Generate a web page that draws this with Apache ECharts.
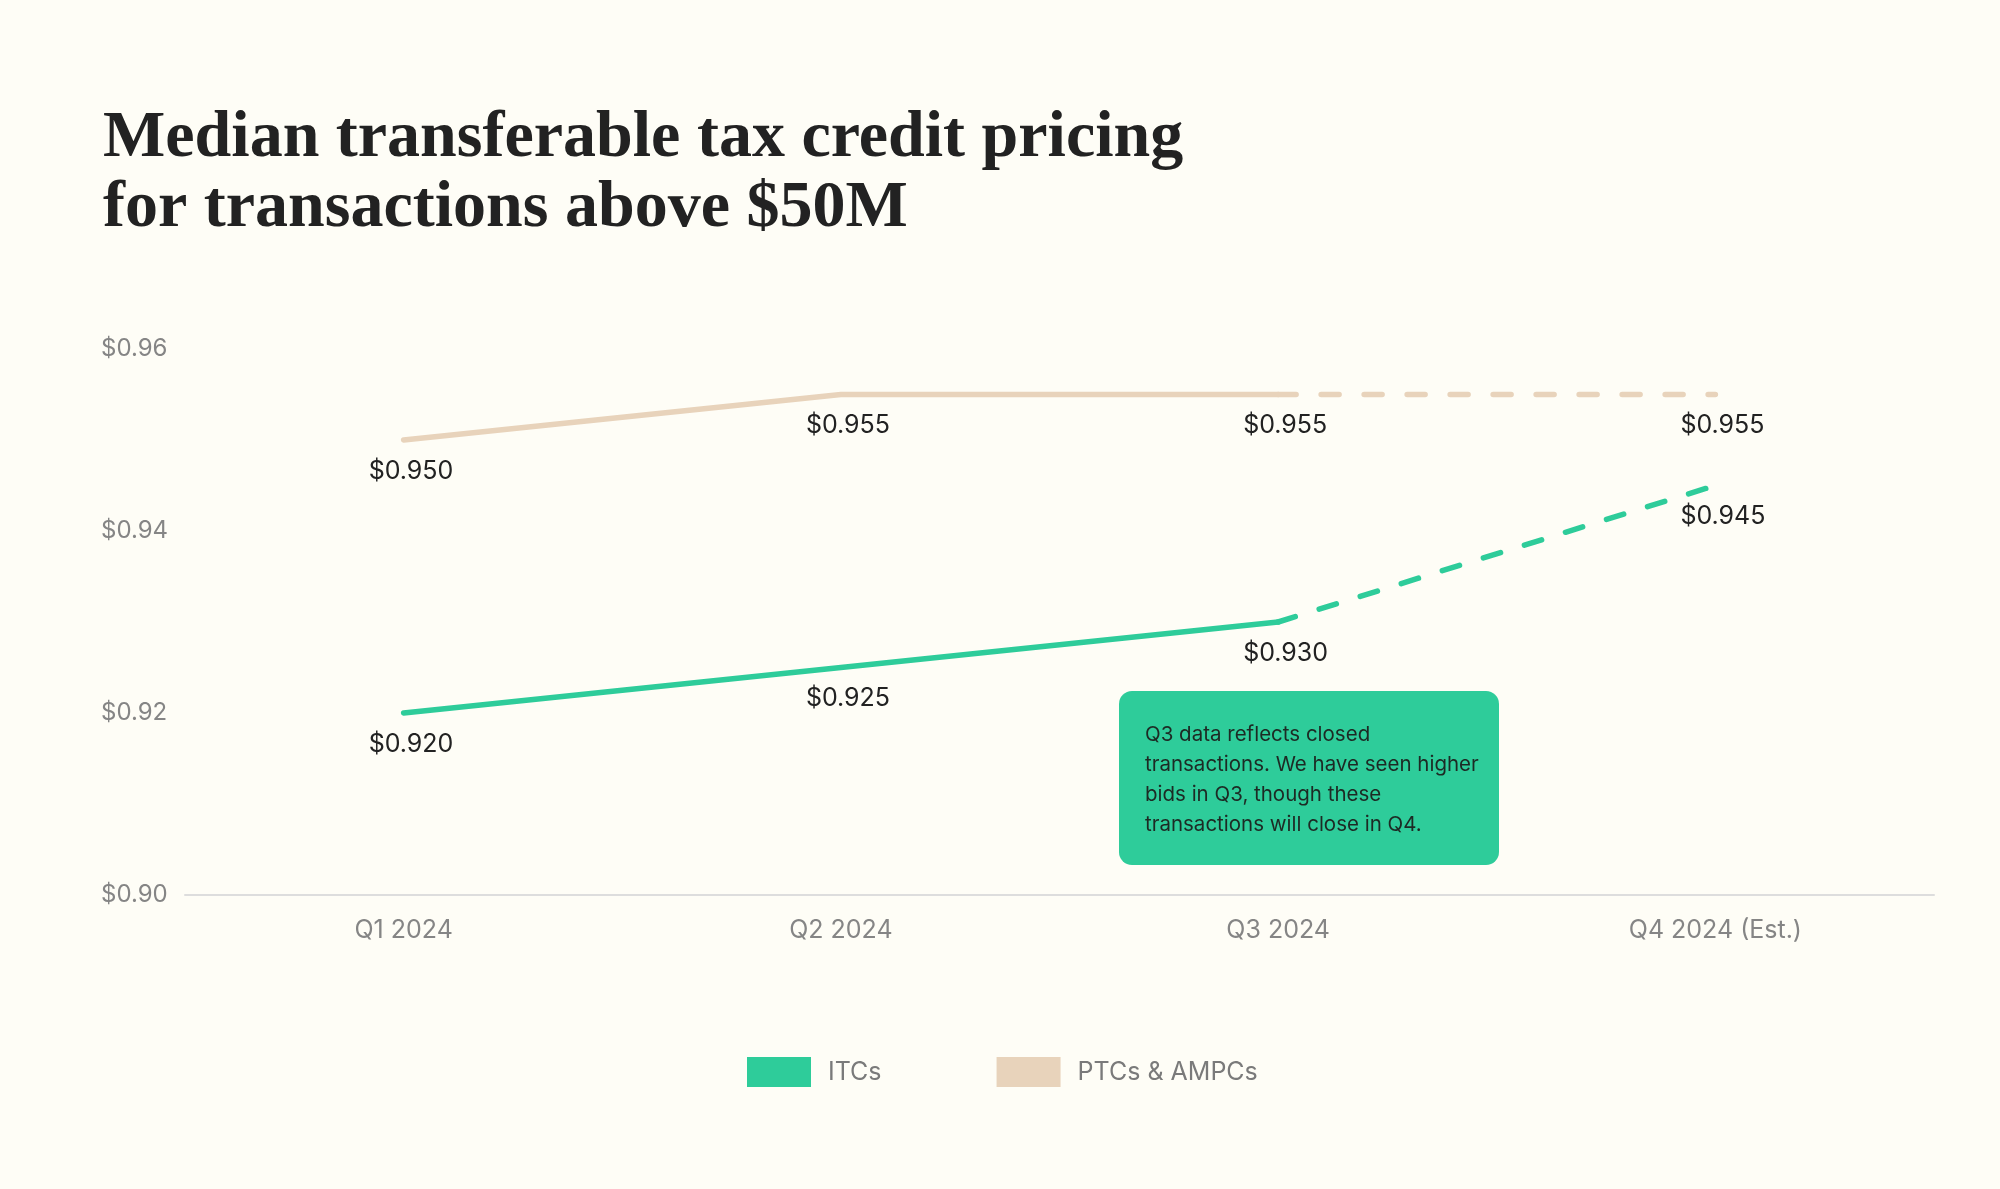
<!DOCTYPE html>
<html>
<head>
<meta charset="utf-8">
<title>Median transferable tax credit pricing</title>
<script src="https://cdn.jsdelivr.net/npm/echarts@6/dist/echarts.min.js"></script>
<style>
    html, body { margin: 0; padding: 0; background: #fefdf6; }
    #chart { width: 2000px; height: 1189px; }
</style>
</head>
<body>
<div id="chart"></div>
<script>
// quarters on the x axis
var quarters = ["Q1 2024", "Q2 2024", "Q3 2024", "Q4 2024 (Est.)"];
// closed transactions (solid) and the estimate (dashed)
var itcClosed = [0.920, 0.925, 0.930, null];
var itcEst = [null, null, 0.930, 0.945];
var ptcClosed = [0.950, 0.955, 0.955, null];
var ptcEst = [null, null, 0.955, 0.955];
// y axis ticks
var yMin = 0.90, yMax = 0.96, yStep = 0.02;

var green = "#2ecc9a";
var sand = "#e8d3bb";
var baseFont = "Inter";

var note = "Q3 data reflects closed\ntransactions. We have seen higher\nbids in Q3, though these\ntransactions will close in Q4.";

// 数据标签：点的下方，左对齐
function valueLabel(skipIndex) {
    return {
        show: true,
        position: "bottom",
        distance: 18,
        align: "left",
        offset: [-35, 0],
        color: "#222",
        fontFamily: baseFont,
        fontSize: 25,
        formatter: function (p) {
            if (skipIndex.indexOf(p.dataIndex) >= 0) return "";
            return "$" + p.value.toFixed(3);
        }
    };
}

function lineSeries(name, data, color, dashed, skip) {
    return {
        name: name,
        type: "line",
        data: data,
        symbol: "circle",
        symbolSize: 1,
        showSymbol: true,
        connectNulls: false,
        itemStyle: { color: "rgba(0,0,0,0)" },
        lineStyle: {
            color: color,
            width: 5.5,
            type: dashed ? [18, 25] : "solid",
            cap: "round",
            join: "round"
        },
        label: valueLabel(skip),
        emphasis: { disabled: true },
        silent: true,
        z: dashed ? 2 : 3
    };
}

var myChart = echarts.init(document.getElementById("chart"));
myChart.setOption({
    backgroundColor: "#fefdf6",
    animation: false,
    title: {
        text: "Median transferable tax credit pricing\nfor transactions above $50M",
        left: 98,
        top: 99,
        textStyle: {
            fontFamily: "Liberation Serif",
            fontWeight: "bold",
            fontSize: 66,
            lineHeight: 70,
            color: "#222"
        }
    },
    legend: {
        left: 742,
        top: 1052,
        itemWidth: 64,
        itemHeight: 30,
        itemGap: 115,
        icon: "rect",
        selectedMode: false,
        textStyle: { color: "#7a7a7a", fontFamily: baseFont, fontSize: 25, padding: [0, 0, 0, 12] },
        data: [
            { name: "ITCs", itemStyle: { color: green } },
            { name: "PTCs & AMPCs", itemStyle: { color: sand } }
        ]
    },
    grid: { left: 185, right: 66, top: 349, bottom: 1189 - 895 },
    xAxis: {
        type: "category",
        data: quarters,
        boundaryGap: true,
        axisLine: { show: true, lineStyle: { color: "#dddddd", width: 2 } },
        axisTick: { show: false },
        axisLabel: { color: "#858585", fontFamily: baseFont, fontSize: 25, margin: 23 }
    },
    yAxis: {
        type: "value",
        min: yMin,
        max: yMax,
        interval: yStep,
        axisLine: { show: false },
        axisTick: { show: false },
        splitLine: { show: false },
        axisLabel: {
            color: "#858585",
            fontFamily: baseFont,
            fontSize: 24,
            align: "left",
            margin: 84,
            verticalAlign: "middle",
            padding: [0, 0, 10, 0],
            formatter: function (v) { return "$" + v.toFixed(2); }
        }
    },
    graphic: [
        {
            type: "group",
            left: 1119,
            top: 691,
            children: [
                {
                    type: "rect",
                    shape: { x: 0, y: 0, width: 380, height: 174, r: 13 },
                    style: { fill: green }
                },
                {
                    type: "text",
                    left: 26,
                    top: 29,
                    style: {
                        text: note,
                        fill: "#1d2a24",
                        font: "20.5px Inter",
                        lineHeight: 30
                    }
                }
            ]
        }
    ],
    series: [
        lineSeries("ITCs", itcClosed, green, false, []),
        lineSeries("ITCs", itcEst, green, true, [2]),
        lineSeries("PTCs & AMPCs", ptcClosed, sand, false, []),
        lineSeries("PTCs & AMPCs", ptcEst, sand, true, [2])
    ]
});
</script>
</body>
</html>
